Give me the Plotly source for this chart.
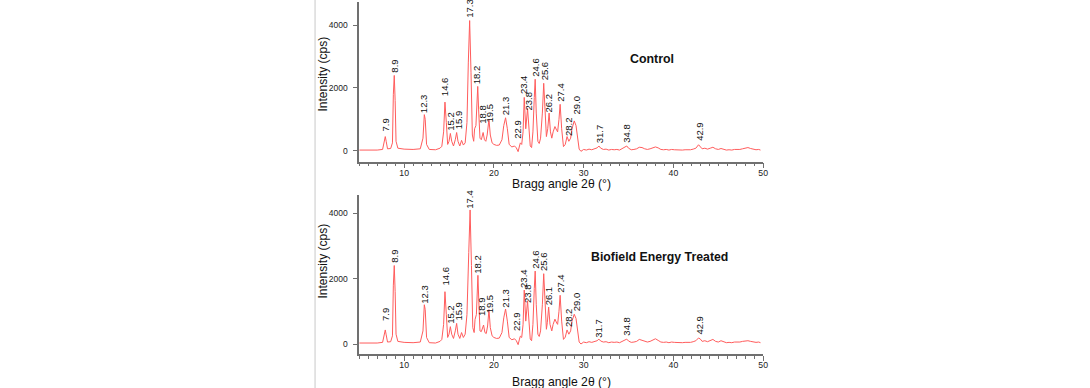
import plotly.graph_objects as go

W, H = 1090, 388

# ---------------- data ----------------
control_x = [5.0, 6.0, 7.0, 7.6, 7.8, 7.9, 8.0, 8.15, 8.5, 8.7, 8.8, 8.9, 9.0, 9.1, 9.3, 10.0, 11.0, 11.8,
             12.1, 12.25, 12.35, 12.5, 12.8, 13.5, 14.0, 14.2, 14.4, 14.55, 14.7, 14.85, 15.0, 15.15, 15.3,
             15.5, 15.7, 15.85, 16.0, 16.2, 16.4, 16.6, 16.8, 17.0, 17.15, 17.3, 17.45, 17.6, 17.75, 17.85,
             18.0, 18.1, 18.2, 18.3, 18.45, 18.6, 18.8, 18.95, 19.1, 19.25, 19.45, 19.6, 19.8, 20.0, 20.3,
             20.6, 20.9, 21.1, 21.3, 21.5, 21.7, 22.0, 22.3, 22.5, 22.7, 22.85, 22.95, 23.1, 23.25, 23.38,
             23.55, 23.75, 23.9, 24.05, 24.2, 24.35, 24.5, 24.6, 24.72, 24.9, 25.05, 25.2, 25.4, 25.55, 25.7,
             25.85, 26.0, 26.15, 26.3, 26.45, 26.6, 26.8, 27.0, 27.1, 27.25, 27.38, 27.55, 27.75, 27.95,
             28.15, 28.35, 28.55, 28.7, 28.95, 29.15, 29.35, 29.5, 29.7, 30.0, 30.3, 30.6, 30.9, 31.2, 31.5,
             31.7, 31.9, 32.2, 32.5, 32.8, 33.1, 33.4, 33.7, 34.0, 34.3, 34.6, 34.8, 35.0, 35.3, 35.6, 35.9,
             36.2, 36.5, 36.8, 37.1, 37.4, 37.7, 38.0, 38.3, 38.6, 38.9, 39.2, 39.5, 39.8, 40.1, 40.4, 40.7,
             41.0, 41.3, 41.6, 41.9, 42.2, 42.5, 42.8, 43.0, 43.2, 43.5, 43.8, 44.1, 44.4, 44.7, 45.0, 45.3,
             45.6, 45.9, 46.2, 46.5, 46.8, 47.1, 47.4, 47.7, 48.0, 48.3, 48.6, 48.9, 49.2, 49.5, 49.7]
control_y = [20, 15, 20, 40, 300, 450, 300, 60, 70, 250, 1800, 2400, 1600, 300, 80, 50, 40, 60,
             400, 1150, 1000, 200, 40, 30, 80, 140, 600, 1550, 900, 200, 300, 550, 300,
             150, 350, 580, 300, 150, 330, 180, 250, 900, 2800, 4150, 2500, 500, 300, 700,
             800, 1400, 2050, 1300, 400, 350, 580, 350, 300, 500, 1000, 500, 250, 200, 170,
             180, 350, 800, 1050, 700, 200, 120, 150, 90, -30, 150, 250, 200, 600, 1700,
             700, 1350, 700, 150, 100, 600, 1700, 2280, 1200, 300, 230, 400, 1200, 2150, 1300,
             450, 700, 1200, 600, 400, 600, 770, 650, 600, 1000, 1480, 700, 130, 200,
             450, 300, 400, 700, 950, 800, 300, 50, -20, 40, 20, 50, 30, 50, 90,
             150, 80, 40, 50, 20, 40, 30, 40, 20, 60, 110, 150, 80, 30, 40, 60,
             110, 100, 60, 40, 60, 90, 120, 90, 40, 30, 40, 20, 40, 30, 20, 30,
             20, 30, 20, 30, 50, 80, 190, 140, 60, 80, 50, 80, 110, 60, 40, 70,
             40, 20, 30, 20, 40, 30, 40, 60, 80, 100, 70, 40, 30, 40, 20]

treated_x = [5.0, 6.0, 7.0, 7.6, 7.8, 7.9, 8.0, 8.15, 8.5, 8.7, 8.8, 8.9, 9.0, 9.1, 9.3, 10.0, 11.0, 11.8,
             12.1, 12.25, 12.35, 12.5, 12.8, 13.5, 14.0, 14.2, 14.4, 14.55, 14.7, 14.85, 15.0, 15.15, 15.3,
             15.5, 15.7, 15.85, 16.0, 16.2, 16.4, 16.6, 16.8, 17.0, 17.2, 17.35, 17.5, 17.65, 17.8, 17.9,
             18.05, 18.15, 18.22, 18.32, 18.45, 18.6, 18.85, 19.0, 19.15, 19.3, 19.45, 19.6, 19.8, 20.0, 20.3,
             20.6, 20.9, 21.1, 21.3, 21.5, 21.7, 22.0, 22.3, 22.5, 22.7, 22.85, 22.95, 23.1, 23.25, 23.38,
             23.55, 23.75, 23.9, 24.05, 24.2, 24.35, 24.5, 24.6, 24.72, 24.9, 25.05, 25.2, 25.4, 25.55, 25.7,
             25.85, 25.95, 26.1, 26.25, 26.45, 26.6, 26.8, 27.0, 27.1, 27.25, 27.38, 27.55, 27.75, 27.95,
             28.15, 28.35, 28.55, 28.7, 28.95, 29.15, 29.35, 29.5, 29.7, 30.0, 30.3, 30.6, 30.9, 31.2, 31.5,
             31.7, 31.9, 32.2, 32.5, 32.8, 33.1, 33.4, 33.7, 34.0, 34.3, 34.6, 34.8, 35.0, 35.3, 35.6, 35.9,
             36.2, 36.5, 36.8, 37.1, 37.4, 37.7, 38.0, 38.3, 38.6, 38.9, 39.2, 39.5, 39.8, 40.1, 40.4, 40.7,
             41.0, 41.3, 41.6, 41.9, 42.2, 42.5, 42.8, 43.0, 43.2, 43.5, 43.8, 44.1, 44.4, 44.7, 45.0, 45.3,
             45.6, 45.9, 46.2, 46.5, 46.8, 47.1, 47.4, 47.7, 48.0, 48.3, 48.6, 48.9, 49.2, 49.5, 49.7]
treated_y = [30, 25, 30, 50, 290, 430, 280, 60, 70, 250, 1800, 2400, 1600, 300, 80, 50, 40, 60,
             400, 1200, 1050, 200, 40, 30, 80, 140, 600, 1600, 900, 200, 300, 530, 300,
             170, 400, 630, 300, 170, 350, 200, 300, 900, 2800, 4100, 2400, 500, 350, 750,
             900, 1500, 2100, 1300, 400, 380, 580, 350, 320, 550, 1050, 500, 250, 200, 170,
             180, 350, 800, 1070, 700, 200, 130, 160, 100, -20, 150, 240, 200, 600, 1650,
             700, 1320, 700, 150, 100, 600, 1700, 2230, 1200, 300, 230, 400, 1200, 2150, 1300,
             450, 650, 1130, 600, 400, 600, 760, 640, 600, 1000, 1490, 700, 140, 210,
             430, 300, 400, 700, 910, 780, 300, 60, 0, 60, 40, 70, 50, 70, 100,
             150, 90, 60, 70, 40, 60, 50, 60, 40, 80, 120, 150, 90, 50, 60, 80,
             140, 120, 80, 60, 80, 110, 160, 110, 60, 50, 60, 40, 60, 50, 40, 50,
             40, 50, 40, 50, 70, 100, 185, 150, 80, 100, 70, 100, 140, 80, 60, 100,
             60, 40, 50, 40, 60, 50, 60, 80, 90, 100, 80, 60, 50, 60, 40]

control_labels = ["7.9", "8.9", "12.3", "14.6", "15.2", "15.9", "17.3", "18.2", "18.8", "19.5", "21.3",
                  "22.9", "23.4", "23.8", "24.6", "25.6", "26.2", "27.4", "28.2", "29.0", "31.7", "34.8", "42.9"]
control_label_x = [7.95, 8.9, 12.25, 14.58, 15.15, 16.05, 17.33, 18.15, 18.7, 19.55, 21.33,
                   22.6, 23.32, 23.82, 24.62, 25.6, 26.12, 27.48, 28.25, 29.15, 31.7, 34.77, 42.9]
control_label_y = [590, 2450, 1160, 1700, 600, 650, 4220, 2080, 820, 880, 1110,
                   340, 1780, 1240, 2320, 2200, 1195, 1515, 450, 1110, 220, 220, 280]

treated_labels = ["7.9", "8.9", "12.3", "14.6", "15.2", "15.9", "17.4", "18.2", "18.9", "19.5", "21.3",
                  "22.9", "23.4", "23.8", "24.6", "25.6", "26.1", "27.4", "28.2", "29.0", "31.7", "34.8", "42.9"]
treated_label_x = [7.95, 8.9, 12.25, 14.58, 15.15, 16.05, 17.33, 18.15, 18.7, 19.55, 21.33,
                   22.6, 23.32, 23.82, 24.62, 25.6, 26.12, 27.48, 28.25, 29.15, 31.7, 34.77, 42.9]
treated_label_y = [680, 2446, 1193, 1753, 581, 683, 4118, 2110, 815, 917, 1091,
                   360, 1690, 1213, 2263, 2192, 1162, 1519, 499, 958, 175, 224, 255]

panel_titles = ["Control", "Biofield Energy Treated"]
x_ticks = [10, 20, 30, 40, 50]
y_ticks = [0, 2000, 4000]

# ---------------- figure ----------------
LINE = "#ff5c5c"
AXC = "#707070"
FONT = "Liberation Sans, Arial, sans-serif"

fig = go.Figure()
fig.add_trace(go.Scatter(x=control_x, y=control_y, mode="lines", line=dict(color=LINE, width=1),
                         xaxis="x", yaxis="y", showlegend=False, hoverinfo="skip"))
fig.add_trace(go.Scatter(x=treated_x, y=treated_y, mode="lines", line=dict(color=LINE, width=1),
                         xaxis="x2", yaxis="y2", showlegend=False, hoverinfo="skip"))

xdom = [360.9 / W, 766.7 / W]


def xaxis_cfg(anchor):
    return dict(domain=xdom, range=[5, 50], anchor=anchor, showgrid=False, zeroline=False,
                showline=True, linecolor=AXC, linewidth=1.5, ticks="outside", ticklen=5,
                tickcolor=AXC, tickwidth=1, tickvals=x_ticks, tickfont=dict(size=8.7, color="#222", family=FONT),
                minor=dict(dtick=1, tick0=5, ticks="outside", ticklen=3, tickcolor=AXC, tickwidth=1),
                ticklabelstandoff=-3, fixedrange=True)


def yaxis_cfg(anchor, dom, rng):
    return dict(domain=dom, range=rng, anchor=anchor, showgrid=False, zeroline=False,
                showline=True, linecolor=AXC, linewidth=1.5, ticks="outside", ticklen=4,
                tickcolor=AXC, tickwidth=1, tickvals=y_ticks, tickfont=dict(size=8.5, color="#222", family=FONT),
                ticklabelstandoff=4, fixedrange=True)


fig.update_layout(
    width=W, height=H, margin=dict(l=0, r=0, t=0, b=0),
    paper_bgcolor="white", plot_bgcolor="white",
    font=dict(family=FONT, color="#222"),
    xaxis=xaxis_cfg("y"),
    yaxis=yaxis_cfg("x", [1 - 161.7 / H, 1 - 2 / H], [-351, 4743]),
    xaxis2=xaxis_cfg("y2"),
    yaxis2=yaxis_cfg("x2", [1 - 354.3 / H, 1 - 195 / H], [-315, 4557]),
)

ann = []
for lab, lx, ly in zip(control_labels, control_label_x, control_label_y):
    ann.append(dict(x=lx, y=ly, xref="x", yref="y", text=lab, textangle=-90, showarrow=False,
                    xanchor="center", yanchor="bottom", borderpad=0, font=dict(size=9.5, color="#111", family=FONT)))
for lab, lx, ly in zip(treated_labels, treated_label_x, treated_label_y):
    ann.append(dict(x=lx, y=ly, xref="x2", yref="y2", text=lab, textangle=-90, showarrow=False,
                    xanchor="center", yanchor="bottom", borderpad=0, font=dict(size=9.5, color="#111", family=FONT)))

# panel titles
ann.append(dict(x=654.7 / W, y=1 - 59 / H, xref="paper", yref="paper", text="<b>%s</b>" % panel_titles[0],
                showarrow=False, xanchor="center", yanchor="middle", font=dict(size=12.4, color="#111", family=FONT)))
ann.append(dict(x=662.9 / W, y=1 - 256.7 / H, xref="paper", yref="paper", text="<b>%s</b>" % panel_titles[1],
                showarrow=False, xanchor="center", yanchor="middle", font=dict(size=12.3, color="#111", family=FONT)))

# axis titles
for yc in (183.5, 381.5):
    ann.append(dict(x=563.8 / W, y=1 - yc / H, xref="paper", yref="paper", text="Bragg angle 2θ (°)",
                    showarrow=False, xanchor="center", yanchor="middle", font=dict(size=12.2, color="#111", family=FONT)))
for yc in (74.5, 261.5):
    ann.append(dict(x=323.5 / W, y=1 - yc / H, xref="paper", yref="paper", text="Intensity (cps)",
                    textangle=-90, showarrow=False, xanchor="center", yanchor="middle",
                    font=dict(size=12, color="#111", family=FONT)))

fig.update_layout(annotations=ann)

# left page divider line
fig.add_shape(type="line", xref="paper", yref="paper", x0=316.5 / W, x1=316.5 / W, y0=0, y1=1,
              line=dict(color="#c8c8c8", width=1))

fig.write_html("out.html", config=dict(displayModeBar=False),
               post_script="document.body.style.margin='0';document.body.style.padding='0';"
                           "document.body.style.overflow='hidden';")
